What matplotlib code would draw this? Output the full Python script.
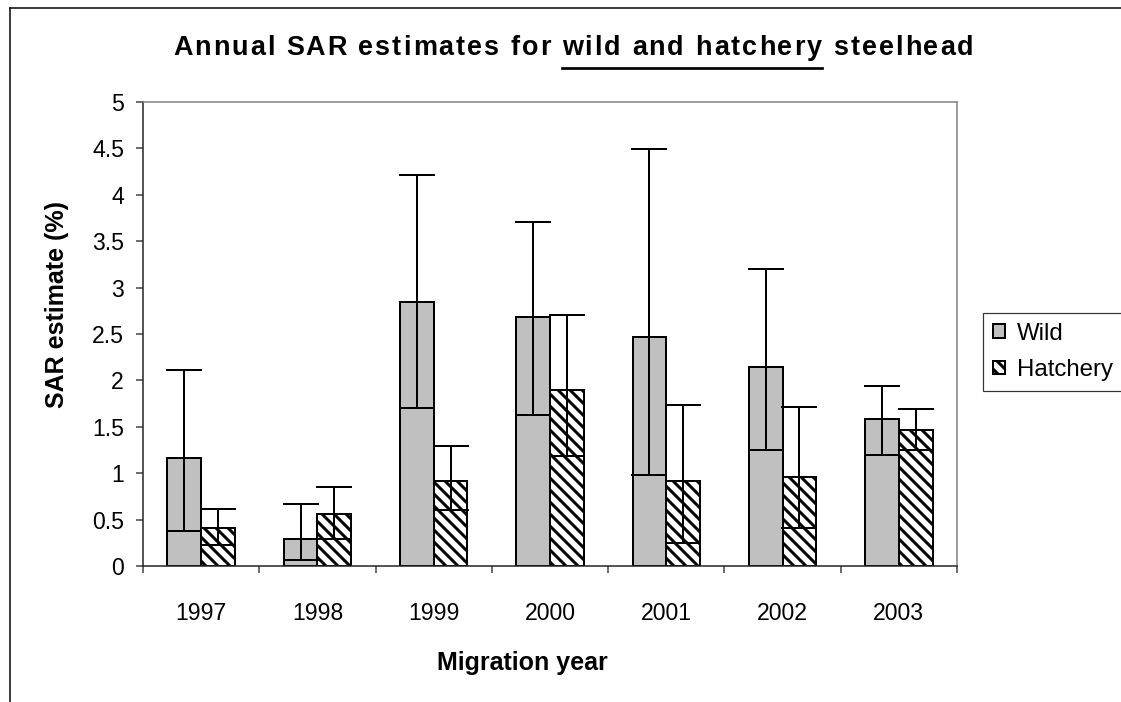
import matplotlib
matplotlib.use("Agg")
import matplotlib.pyplot as plt
from matplotlib.transforms import IdentityTransform
from matplotlib.lines import Line2D
from matplotlib.font_manager import findfont, FontProperties
from matplotlib.ft2font import FT2Font
import numpy as np

plt.rcParams['font.family'] = ['Liberation Sans', 'DejaVu Sans']
plt.rcParams['hatch.linewidth'] = 3

years = ['1997', '1998', '1999', '2000', '2001', '2002', '2003']

wild = [1.16, 0.29, 2.85, 2.68, 2.47, 2.14, 1.58]
wild_lo = [0.38, 0.07, 1.70, 1.63, 0.98, 1.25, 1.20]
wild_hi = [2.11, 0.67, 4.21, 3.71, 4.49, 3.20, 1.94]

hatchery = [0.41, 0.56, 0.92, 1.90, 0.92, 0.96, 1.47]
hatchery_lo = [0.23, 0.29, 0.60, 1.19, 0.25, 0.41, 1.25]
hatchery_hi = [0.61, 0.85, 1.29, 2.71, 1.74, 1.71, 1.69]

yticks = [0, 0.5, 1, 1.5, 2, 2.5, 3, 3.5, 4, 4.5, 5]

W, H, DPI = 1121, 702, 72
fig = plt.figure(figsize=(W / DPI, H / DPI), dpi=DPI)
ax = fig.add_axes([143 / W, 1 - 566 / H, (957 - 143) / W, (566 - 102) / H])

x = np.arange(len(years))
bw = 0.29
ax.bar(x - bw / 2, wild, bw, color='#C0C0C0', edgecolor='black', linewidth=2, label='Wild')
ax.bar(x + bw / 2, hatchery, bw, color='white', edgecolor='black', linewidth=2,
       hatch='\\\\', label='Hatchery')

w = np.array(wild)
h = np.array(hatchery)
ax.errorbar(x - bw / 2, w, yerr=[w - np.array(wild_lo), np.array(wild_hi) - w],
            fmt='none', ecolor='black', elinewidth=2, capsize=18, capthick=2)
ax.errorbar(x + bw / 2, h, yerr=[h - np.array(hatchery_lo), np.array(hatchery_hi) - h],
            fmt='none', ecolor='black', elinewidth=2, capsize=18, capthick=2)

ax.set_xlim(-0.5, len(years) - 0.5)
ax.set_ylim(0, 5)
ax.set_yticks(yticks)
ax.set_yticklabels([f"{v:g}" for v in yticks])
ax.set_xticks(x)
ax.set_xticklabels(years)
ax.set_xticks(np.arange(-0.5, len(years), 1), minor=True)
ax.tick_params(axis='x', which='major', length=0, pad=36, labelsize=23)
ax.tick_params(axis='x', which='minor', length=7, width=1.5, direction='out', color='#404040')
ax.tick_params(axis='y', length=7, width=1.5, direction='out', pad=12, labelsize=23, color='#404040')

for s in ['top', 'right']:
    ax.spines[s].set_color('#808080')
    ax.spines[s].set_linewidth(1.5)
for s in ['left', 'bottom']:
    ax.spines[s].set_color('#202020')
    ax.spines[s].set_linewidth(1.5)

leg = ax.legend(loc='upper left', bbox_to_anchor=(983 / W, 1 - 313 / H), bbox_transform=fig.transFigure,
                fancybox=False, edgecolor='black', fontsize=24, handlelength=0.5, handleheight=0.5,
                handletextpad=0.5, borderpad=0.4, labelspacing=0.6, borderaxespad=0)
leg.get_frame().set_linewidth(1.2)

# title with letter spacing, drawn char by char
fp = FontProperties(family='Liberation Sans', weight='bold')
font = FT2Font(findfont(fp), hinting_factor=1)
tsize = 27
font.set_size(tsize, DPI)
track = 1.6
base = H - 55


def spaced(s, x0):
    xx = x0
    for ch in s:
        g = font.load_char(ord(ch))
        if ch != ' ':
            fig.text(xx, base, ch, transform=IdentityTransform(),
                     fontsize=tsize, fontweight='bold', va='baseline', ha='left')
        xx += g.horiAdvance / 64 + track
    return xx


x1 = spaced('Annual SAR estimates for ', 173)
x2 = spaced('wild and hatchery', x1)
spaced(' steelhead', x2)
fig.add_artist(Line2D([x1, x2 - track], [H - 68, H - 68], transform=IdentityTransform(),
                      color='black', lw=2.7))

fig.text(522, H - 663, 'Migration year', transform=IdentityTransform(), ha='center', va='center',
         fontsize=25, fontweight='bold')
fig.text(57, H - 304, 'SAR estimate (%)', transform=IdentityTransform(), ha='center', va='center',
         fontsize=25, fontweight='bold', rotation=90)

# outer frame (left and top edges only visible)
fig.add_artist(Line2D([10, 10], [0, H - 8], transform=IdentityTransform(), color='black', lw=1.5))
fig.add_artist(Line2D([10, W], [H - 8, H - 8], transform=IdentityTransform(), color='black', lw=1.5))

fig.savefig('out.png', dpi=DPI)
